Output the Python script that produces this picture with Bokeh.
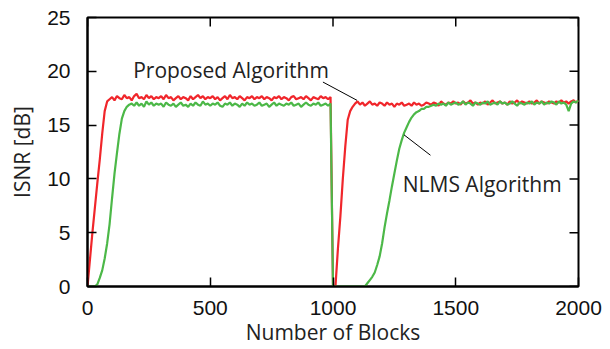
import math
from bokeh.plotting import figure
from bokeh.models import Range1d, FixedTicker, Label
from bokeh.embed import file_html
from bokeh.resources import INLINE

# ---- data ----
blocks = list(range(0, 2001, 10))

red_isnr = [
    0.0, 2.5, 5.0, 7.3, 9.6, 11.8, 14.2, 16.3, 17.2, 17.4, 17.6,
    17.3, 17.7, 17.5, 17.4, 17.8, 17.5, 17.6, 17.3, 17.7,
    17.9, 17.5, 17.6, 17.4, 17.8, 17.5, 17.7, 17.4, 17.6, 17.5,
    17.7, 17.4, 17.8, 17.5, 17.6, 17.3, 17.5, 17.7, 17.4, 17.6,
    17.5, 17.3, 17.7, 17.4, 17.6, 17.8, 17.5, 17.7, 17.4, 17.6,
    17.5, 17.7, 17.4, 17.6, 17.3, 17.5, 17.7, 17.4, 17.8, 17.5,
    17.6, 17.4, 17.7, 17.5, 17.3, 17.6, 17.5, 17.7, 17.4, 17.6,
    17.5, 17.7, 17.4, 17.6, 17.5, 17.3, 17.6, 17.5, 17.7, 17.4,
    17.6, 17.5, 17.3, 17.6, 17.7, 17.4, 17.5, 17.6, 17.4, 17.7,
    17.5, 17.3, 17.6, 17.5, 17.4, 17.7, 17.5, 17.6, 17.4, 17.6,
    0.0, 0.0, 3.5, 6.5, 10.0, 13.0, 15.5, 16.3, 16.7, 17.0,
    17.2, 16.9, 17.1, 16.8, 17.0, 17.2, 16.9, 17.0, 16.8, 17.1,
    17.0, 16.8, 17.1, 16.9, 17.0, 16.7, 17.0, 16.9, 17.1, 16.8,
    16.9, 17.0, 16.8, 17.1, 16.9, 17.0, 16.8, 16.9, 17.1, 17.0,
    16.9, 17.1, 17.0, 16.8, 17.2, 17.0, 16.9, 17.1, 17.0, 17.2,
    17.0, 17.1, 16.9, 17.2, 17.0, 17.1, 17.3, 17.0, 17.1, 16.9,
    17.1, 17.0, 17.2, 16.9, 17.1, 17.3, 17.0, 17.1, 17.2, 17.0,
    17.1, 16.9, 17.2, 17.0, 17.1, 17.3, 17.0, 17.2, 17.1, 17.0,
    17.2, 17.0, 17.1, 17.3, 17.0, 17.2, 17.1, 17.0, 17.2, 17.1,
    17.0, 17.2, 17.1, 17.3, 17.1, 17.2, 17.0, 17.2, 17.3, 17.1,
    17.3,
]

green_isnr = [
    0.0, 0.0, 0.0, 0.0, 0.2, 0.8, 1.5, 2.6, 4.0, 5.8, 8.2,
    10.5, 12.4, 14.2, 15.6, 16.3, 16.7, 16.9, 17.0, 16.8,
    17.1, 16.8, 17.0, 16.7, 17.2, 16.9, 17.1, 16.8, 17.0, 16.9,
    17.0, 16.7, 17.1, 16.9, 16.8, 17.0, 16.7, 16.9, 17.1, 16.8,
    16.9, 16.7, 17.0, 16.8, 17.1, 16.9, 16.8, 17.2, 16.9, 17.0,
    16.8, 17.0, 16.9, 17.1, 16.8, 16.7, 17.0, 16.9, 17.1, 16.8,
    17.0, 16.9, 16.7, 17.0, 16.8, 17.1, 16.9, 17.0, 16.8, 16.9,
    17.1, 16.8, 16.9, 17.0, 16.7, 16.9, 17.1, 16.8, 17.0, 16.9,
    16.8, 17.0, 16.9, 17.1, 16.8, 16.9, 17.0, 16.7, 16.9, 17.1,
    16.9, 16.8, 17.0, 16.9, 17.1, 16.8, 16.9, 17.0, 16.8, 17.0,
    0.0, 0.0, 0.0, 0.0, 0.0, 0.0, 0.0, 0.0, 0.0, 0.0,
    0.0, 0.0, 0.0, 0.0, 0.3, 0.6, 0.9, 1.3, 2.0, 2.8,
    4.0, 5.5, 6.8, 8.0, 9.3, 10.5, 11.7, 12.8, 13.6, 14.3,
    14.8, 15.3, 15.7, 16.0, 16.2, 16.3, 16.5, 16.5, 16.7, 16.7,
    16.8, 16.9, 16.8, 17.0, 16.9, 17.0, 16.8, 17.1, 16.9, 17.0,
    17.1, 16.9, 17.0, 17.2, 16.9, 17.1, 17.0, 16.8, 17.1, 17.0,
    16.9, 17.1, 17.0, 17.2, 16.9, 17.0, 17.1, 16.9, 17.2, 17.0,
    17.1, 16.9, 17.0, 17.2, 17.0, 16.8, 17.1, 17.0, 16.9, 17.1,
    17.0, 17.2, 16.9, 17.1, 17.0, 17.2, 16.9, 17.1, 17.0, 17.2,
    17.1, 16.9, 17.2, 17.0, 17.1, 16.9, 16.3, 17.0, 17.2, 17.1,
    17.3,
]

x_ticks = [0, 500, 1000, 1500, 2000]
y_ticks = [0, 5, 10, 15, 20, 25]

x_title = "Number of Blocks"
y_title = "ISNR [dB]"

# annotation texts and leader lines (data coords)
proposed_label = "Proposed Algorithm"
proposed_text_pos = (186, 20.15)
proposed_leader_x = [959, 1098]
proposed_leader_y = [19.0, 17.3]

nlms_label = "NLMS Algorithm"
nlms_text_pos = (1284, 9.55)
nlms_leader_x = [1289, 1397]
nlms_leader_y = [14.1, 12.2]

RED = "#f0262b"
GREEN = "#4cb848"
TICK = 9

p = figure(width=610, height=349, output_backend="svg", toolbar_location=None,
           x_range=Range1d(0, 2000), y_range=Range1d(0, 25),
           min_border_left=87, min_border_right=32, min_border_top=17,
           min_border_bottom=63)
p.background_fill_color = "white"
p.border_fill_color = "white"
p.grid.visible = False
p.outline_line_color = "black"
p.outline_line_width = 2

for ax in (p.xaxis[0], p.yaxis[0]):
    ax.major_tick_in = TICK
    ax.major_tick_out = 0
    ax.minor_tick_line_color = None
    ax.axis_line_color = "black"
    ax.axis_line_width = 2
    ax.major_tick_line_width = 1.5
    ax.major_label_text_font = "Liberation Sans"
    ax.major_label_text_font_size = "21px"
    ax.major_label_text_color = "#111111"
    ax.axis_label_text_font = "Open Sans"
    ax.axis_label_text_font_style = "normal"
    ax.axis_label_text_font_size = "21px"
    ax.axis_label_text_color = "#222222"

p.xaxis.ticker = FixedTicker(ticks=x_ticks)
p.yaxis.ticker = FixedTicker(ticks=y_ticks)
p.xaxis.axis_label = x_title
p.yaxis.axis_label = y_title
p.xaxis.major_label_standoff = 14
p.yaxis.major_label_standoff = 17
p.xaxis.axis_label_standoff = 0
p.yaxis.axis_label_standoff = 8

# mirrored inward ticks on the top and right edges
p.ray(x=x_ticks, y=[25] * len(x_ticks), length=TICK, length_units="screen",
      angle=-math.pi / 2, line_color="black", line_width=1.5)
p.ray(x=[2000] * len(y_ticks), y=y_ticks, length=TICK, length_units="screen",
      angle=math.pi, line_color="black", line_width=1.5)

p.line(blocks, red_isnr, line_color=RED, line_width=2.2)
p.line(blocks, green_isnr, line_color=GREEN, line_width=2.2)

p.line(proposed_leader_x, proposed_leader_y, line_color="black", line_width=1)
p.line(nlms_leader_x, nlms_leader_y, line_color="black", line_width=1)

p.add_layout(Label(x=proposed_text_pos[0], y=proposed_text_pos[1], text=proposed_label,
                   text_font="Open Sans", text_font_size="21px", text_color="#222222",
                   text_baseline="alphabetic", text_align="left"))
p.add_layout(Label(x=nlms_text_pos[0], y=nlms_text_pos[1], text=nlms_label,
                   text_font="Open Sans", text_font_size="21px", text_color="#222222",
                   text_baseline="alphabetic", text_align="left"))

open("out.html", "w").write(file_html(p, INLINE))
